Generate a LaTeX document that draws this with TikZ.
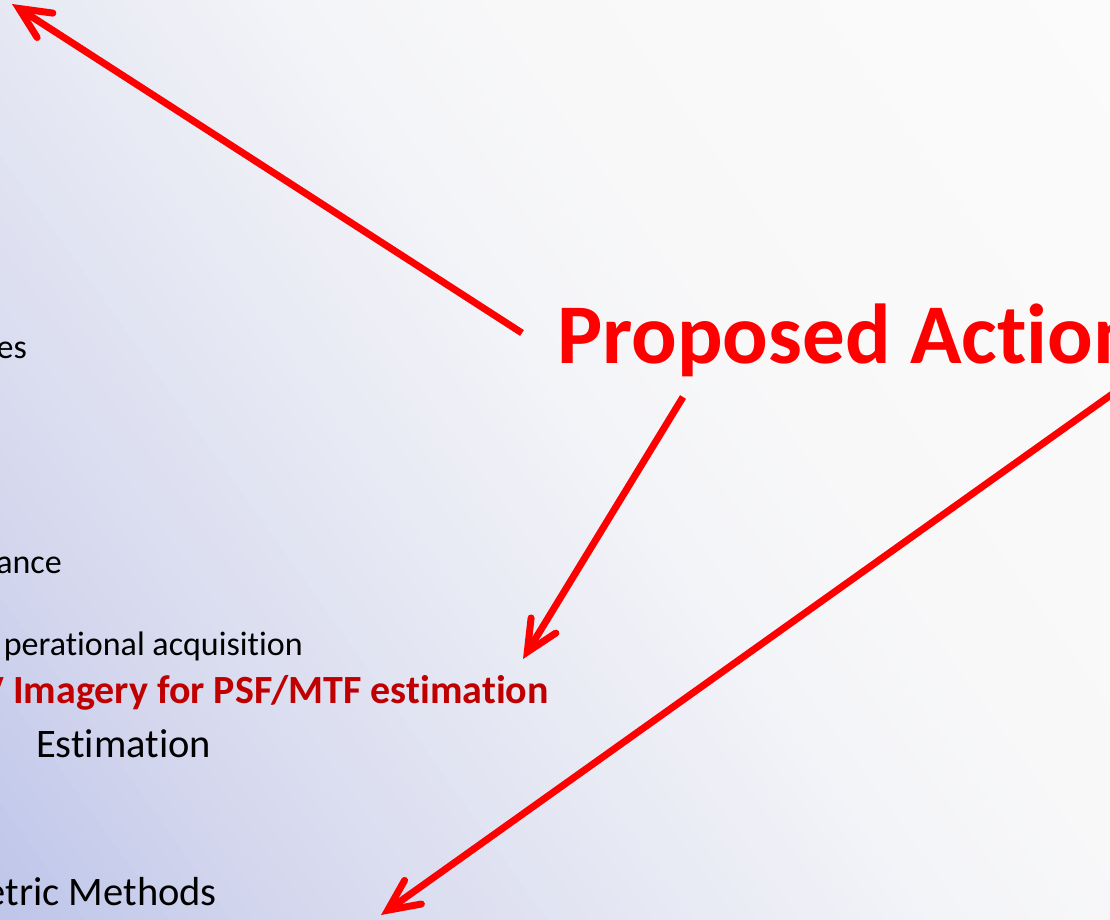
\documentclass[tikz,border=0pt]{standalone}
\usepackage{fontspec}
\setmainfont{Carlito}[RawFeature={-liga}]
\usetikzlibrary{arrows.meta}
\definecolor{bgc0}{RGB}{190,197,233}
\definecolor{bgc1}{RGB}{213,216,238}
\definecolor{bgc2}{RGB}{229,231,243}
\definecolor{bgc3}{RGB}{243,244,248}
\definecolor{bgc4}{RGB}{248,248,249}
\definecolor{bgc5}{RGB}{251,251,251}
\definecolor{darkred}{RGB}{192,0,0}
\definecolor{arrred}{RGB}{255,0,0}
\tikzset{
  txt/.style={inner sep=0pt, text=black, font=\fontsize{34}{40}\selectfont},
  bigtxt/.style={inner sep=0pt, text=black, font=\fontsize{40.5}{48}\selectfont},
  redtxt/.style={inner sep=0pt, text=darkred, font=\fontsize{40}{48}\selectfont\bfseries},
  titletxt/.style={inner sep=0pt, text=arrred, font=\fontsize{85}{100}\selectfont\bfseries},
  arr/.style={draw=arrred, line width=7pt, line cap=butt,
    -{Straight Barb[length=31pt, width=29pt, line cap=round, line join=miter]}}
}
\begin{document}
\begin{tikzpicture}[x=1pt, y=-1pt]
\useasboundingbox (0,0) rectangle (1110,920);
\clip (0,0) rectangle (1110,920);
% background: linear gradient, bluish at bottom-left, near white at top-right
\fill[bgc5] (0,0) rectangle (1110,920);
\foreach \sa/\sb/\ca/\cb in {0/15/bgc0/bgc1, 15/30/bgc1/bgc2, 30/45/bgc2/bgc3, 45/55/bgc3/bgc4, 55/85/bgc4/bgc5}{
  \pgfmathtruncatemacro\nn{\sb-\sa-1}
  \foreach \k in {0,...,\nn}{
    \pgfmathsetmacro\pp{100*(\k+0.5)/(\sb-\sa)}
    \pgfmathsetmacro\su{\sa+\k}
    \pgfmathsetmacro\sv{\sa+\k+1.3}
    \edef\mixcol{\cb!\pp!\ca}
    \fill[fill=\mixcol] ({13.93*\su-1164.4},{920-9.968*\su-1626.8}) -- ({13.93*\su+1164.4},{920-9.968*\su+1626.8}) -- ({13.93*\sv+1164.4},{920-9.968*\sv+1626.8}) -- ({13.93*\sv-1164.4},{920-9.968*\sv-1626.8}) -- cycle;
  }
}
% texts
\node[txt, anchor=base east] (es) at (27,358) {es};
\node[txt, anchor=base east] (ance) at (62,573) {ance};
\node[txt, anchor=base east] (oper) at (303,655) {perational acquisition};
\node[redtxt, anchor=base west] (img) at (13,703) {Imagery for PSF/MTF estimation};
\node[redtxt, anchor=base east] (v) at (4,703) {V};
\node[bigtxt, anchor=base west] (est) at (36,757) {Estimation};
\node[bigtxt, anchor=base east] (metr) at (217,905) {etric Methods};
\node[titletxt, anchor=base west] (pa) at (557,363) {Proposed Action};
% arrow end points
\coordinate (a1s) at (522,333);
\coordinate (a1t) at (12,4);
\coordinate (a2s) at (683,397);
\coordinate (a2t) at (523,659);
\coordinate (a3s) at (1125,385);
\coordinate (a3t) at (381,915);
\draw[arr] (a1s) -- (a1t);
\draw[arr] (a2s) -- (a2t);
\draw[arr] (a3s) -- (a3t);
\end{tikzpicture}
\end{document}
